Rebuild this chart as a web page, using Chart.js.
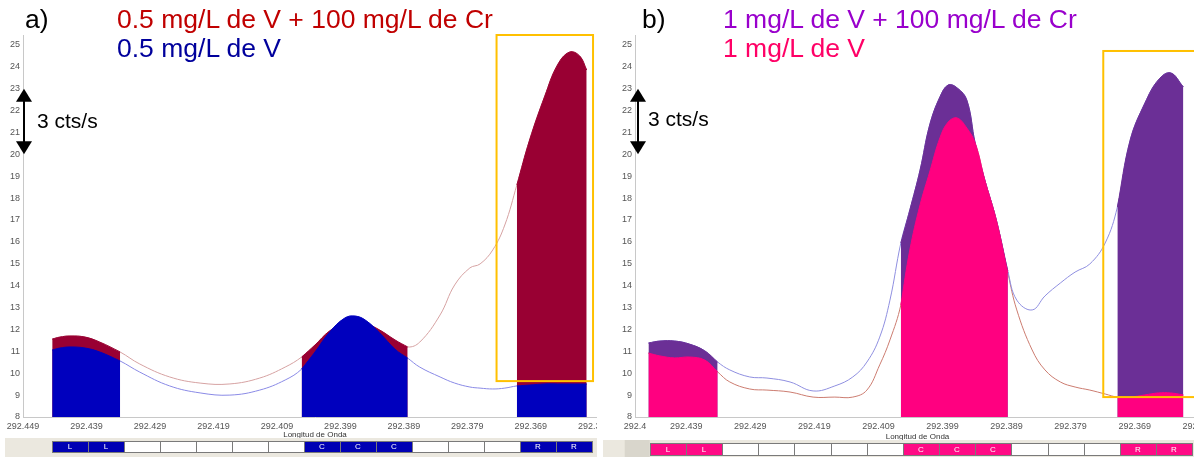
<!DOCTYPE html>
<html lang="es">
<head>
<meta charset="utf-8">
<title>Espectros V / Cr</title>
<script src="https://cdn.jsdelivr.net/npm/chart.js@4.4.1/dist/chart.umd.min.js"></script>
<style>
  html, body { margin: 0; padding: 0; background: #fff; }
  body { position: relative; width: 1194px; height: 457px; overflow: hidden;
         font-family: "Liberation Sans", Arial, sans-serif; }
  .panel { position: absolute; top: 0; height: 457px; overflow: hidden; }
  #panel-a { left: 0; width: 597px; }
  #panel-b { left: 600px; width: 594px; }
  .panel canvas { position: absolute; left: 0; top: 0; }
  .head { position: absolute; top: 5px; font-size: 26.5px; line-height: 29px; white-space: nowrap; }
  .note { position: absolute; font-size: 21px; line-height: 21px; white-space: nowrap; color: #000; }
</style>
</head>
<body>
<div class="panel" id="panel-a">
  <canvas id="chart-a" width="620" height="457"></canvas>
  <div class="head" style="left:25px;color:#000">a)</div>
  <div class="head" style="left:117px">
    <div style="color:#c00000">0.5 mg/L de V + 100 mg/L de Cr</div>
    <div style="color:#00009c">0.5 mg/L de V</div>
  </div>
  <div class="note" style="left:37px;top:110px">3 cts/s</div>
</div>
<div class="panel" id="panel-b">
  <canvas id="chart-b" width="620" height="457"></canvas>
  <div class="head" style="left:42px;color:#000">b)</div>
  <div class="head" style="left:123px">
    <div style="color:#9900cc">1 mg/L de V + 100 mg/L de Cr</div>
    <div style="color:#ff0066">1 mg/L de V</div>
  </div>
  <div class="note" style="left:48px;top:108px">3 cts/s</div>
</div>

<script>
// Intensity axis (cts/s) and the 3 cts/s scale bar
const yTicks = [8, 9, 10, 11, 12, 13, 14, 15, 16, 17, 18, 19, 20, 21, 22, 23, 24, 25];
const scaleBar = [20, 23];

// Measurement windows shown in the bottom strip (L = left bkg, C = centre, R = right bkg)
const cellLabels = ['L', 'L', '', '', '', '', '', 'C', 'C', 'C', '', '', '', 'R', 'R'];

// ---- a) 0.5 mg/L V ----
const xTicksA = [292.449, 292.439, 292.429, 292.419, 292.409, 292.399, 292.389, 292.379, 292.369, 292.359];
const xLabelsA = ['292.449', '292.439', '292.429', '292.419', '292.409', '292.399', '292.389', '292.379', '292.369', '292.359'];
const wlA = [292.4444, 292.4432, 292.4416, 292.4392, 292.4369, 292.4337, 292.4306, 292.4259, 292.4211, 292.4164,
  292.4117, 292.4077, 292.4051, 292.4030, 292.4007, 292.3983, 292.3967, 292.3951, 292.3928, 292.3904,
  292.3884, 292.3865, 292.3833, 292.3810, 292.3786, 292.3770, 292.3750, 292.3731, 292.3712, 292.3692,
  292.3668, 292.3648, 292.3629, 292.3613, 292.3602];
const vCrA = [11.56, 11.65, 11.70, 11.65, 11.42, 10.97, 10.42, 9.83, 9.55, 9.51,
  9.78, 10.28, 10.74, 11.29, 11.93, 12.29, 12.38, 12.29, 11.97, 11.52,
  11.20, 11.42, 12.66, 14.03, 14.81, 14.99, 15.63, 16.77, 18.60, 20.65,
  22.66, 24.08, 24.67, 24.49, 23.85];
const vA = [11.06, 11.15, 11.20, 11.15, 10.97, 10.56, 10.05, 9.42, 9.10, 9.00,
  9.23, 9.69, 10.19, 10.97, 11.88, 12.52, 12.61, 12.43, 11.84, 11.10,
  10.69, 10.28, 9.83, 9.55, 9.37, 9.32, 9.28, 9.32, 9.42, 9.46,
  9.51, 9.51, 9.51, 9.51, 9.51];
const windowsA = [[292.4444, 292.4337], [292.4051, 292.3884], [292.3712, 292.3602]];

// ---- b) 1 mg/L V ----
const xTicksB = [292.447, 292.439, 292.429, 292.419, 292.409, 292.399, 292.389, 292.379, 292.369, 292.359];
const xLabelsB = ['292.4', '292.439', '292.429', '292.419', '292.409', '292.399', '292.389', '292.379', '292.369', '292.359'];
const wlB = [292.4449, 292.4431, 292.4408, 292.4385, 292.4361, 292.4341, 292.4322, 292.4291, 292.4264, 292.4228,
  292.4192, 292.4158, 292.4130, 292.4108, 292.4088, 292.4072, 292.4055, 292.4041, 292.4025, 292.4010,
  292.3994, 292.3981, 292.3967, 292.3952, 292.3939, 292.3924, 292.3906, 292.3888, 292.3874, 292.3850,
  292.3830, 292.3806, 292.3783, 292.3760, 292.3736, 292.3717, 292.3697, 292.3674, 292.3653, 292.3634,
  292.3614];
const vCrB = [11.38, 11.47, 11.47, 11.33, 11.02, 10.51, 10.15, 9.83, 9.78, 9.60,
  9.19, 9.42, 9.83, 10.51, 11.65, 13.34, 15.95, 17.46, 19.28, 21.34,
  22.62, 23.17, 23.03, 22.48, 20.52, 18.83, 17.00, 14.67, 13.34, 12.89,
  13.53, 14.12, 14.62, 14.99, 15.95, 17.59, 20.65, 22.34, 23.40, 23.72,
  23.08];
const vB = [10.92, 10.79, 10.70, 10.74, 10.60, 10.06, 9.60, 9.28, 9.23, 9.14,
  8.91, 8.91, 8.91, 9.23, 10.38, 11.52, 13.12, 15.63, 17.69, 19.19,
  20.75, 21.48, 21.66, 21.20, 20.52, 18.83, 17.00, 14.58, 12.89, 11.06,
  10.15, 9.60, 9.37, 9.23, 9.05, 8.91, 8.91, 9.01, 9.10, 9.10,
  9.01];
const windowsB = [[292.4449, 292.4341], [292.4055, 292.3888], [292.3717, 292.3614]];

const tickFont = { family: '"Liberation Sans Narrow", "Liberation Sans", Arial, sans-serif', size: 9 };

const toPoints = (wl, vals) => wl.map((w, i) => ({ x: w, y: vals[i] }));
const inWindow = (points, w) => points.filter(p => p.x <= w[0] + 1e-9 && p.x >= w[1] - 1e-9);

function lineSet(data, color) {
  return { data, borderColor: color, borderWidth: 1, fill: false, order: 5 };
}
function areaSet(data, color, order) {
  return { data, borderColor: color, backgroundColor: color, borderWidth: 1, fill: 'start', order };
}

function buildDatasets(wl, crVals, vVals, windows, st) {
  const cr = toPoints(wl, crVals), v = toPoints(wl, vVals);
  const sets = [lineSet(cr, st.crLine), lineSet(v, st.vLine)];
  windows.forEach(w => {
    sets.push(areaSet(inWindow(cr, w), st.crFill, 4));
    sets.push(areaSet(inWindow(v, w), st.vFill, 3));
  });
  return sets;
}

// strip, caption, scale bar and highlight frame
const panelDecor = {
  id: 'panelDecor',
  afterDraw(chart, args, o) {
    const { ctx, chartArea: area, scales: { x, y } } = chart;
    ctx.save();

    // highlight frame round the right-hand window
    const fx0 = x.getPixelForValue(o.frame.from), fx1 = x.getPixelForValue(o.frame.to);
    const fy0 = y.getPixelForValue(o.frame.high), fy1 = y.getPixelForValue(o.frame.low);
    ctx.strokeStyle = '#ffc000';
    ctx.lineWidth = 2;
    ctx.strokeRect(fx0, fy0, fx1 - fx0, fy1 - fy0);

    // double arrow for 3 cts/s
    const ax = area.left + o.arrowDx;
    const top = y.getPixelForValue(scaleBar[1]), bot = y.getPixelForValue(scaleBar[0]);
    ctx.fillStyle = '#000';
    ctx.strokeStyle = '#000';
    ctx.lineWidth = 2;
    ctx.beginPath(); ctx.moveTo(ax, top + 8); ctx.lineTo(ax, bot - 8); ctx.stroke();
    ctx.beginPath(); ctx.moveTo(ax, top); ctx.lineTo(ax - 8, top + 13); ctx.lineTo(ax + 8, top + 13); ctx.closePath(); ctx.fill();
    ctx.beginPath(); ctx.moveTo(ax, bot); ctx.lineTo(ax - 8, bot - 13); ctx.lineTo(ax + 8, bot - 13); ctx.closePath(); ctx.fill();

    // axis caption
    ctx.fillStyle = '#333';
    ctx.font = '8px "Liberation Sans Narrow", "Liberation Sans", sans-serif';
    ctx.textAlign = 'center';
    ctx.textBaseline = 'middle';
    ctx.fillText('Longitud de Onda', (area.left + area.right) / 2, o.captionY);

    // window strip
    ctx.fillStyle = '#ebe8df';
    ctx.fillRect(o.stripLeft, o.stripTop, chart.width - o.stripLeft, chart.height - o.stripTop);
    const c0 = x.getPixelForValue(o.cellStart);
    if (o.stub) {
      ctx.fillStyle = '#d9d6cc';
      ctx.fillRect(c0 - 25, o.stripTop, 25, chart.height - o.stripTop);
    }
    ctx.lineWidth = 1;
    ctx.font = '8px "Liberation Sans", sans-serif';
    cellLabels.forEach((lab, i) => {
      const x0 = Math.round(x.getPixelForValue(o.cellStart - i * o.cellStep));
      const x1 = Math.round(x.getPixelForValue(o.cellStart - (i + 1) * o.cellStep));
      ctx.fillStyle = lab ? o.cellFill : '#fff';
      ctx.fillRect(x0, o.cellTop, x1 - x0, o.cellH);
      ctx.strokeStyle = '#7a7a7a';
      ctx.strokeRect(x0 + 0.5, o.cellTop + 0.5, x1 - x0, o.cellH);
      if (lab) {
        ctx.fillStyle = '#fff';
        ctx.fillText(lab, (x0 + x1) / 2, o.cellTop + o.cellH / 2 + 0.5);
      }
    });
    ctx.restore();
  }
};

function makeChart(id, cfg) {
  return new Chart(document.getElementById(id), {
    type: 'line',
    data: { datasets: cfg.datasets },
    options: {
      responsive: false,
      animation: false,
      devicePixelRatio: 1,
      layout: { padding: cfg.padding },
      elements: { point: { radius: 0 }, line: { tension: 0.4 } },
      plugins: { legend: { display: false }, tooltip: { enabled: false }, panelDecor: cfg.decor },
      scales: {
        x: {
          type: 'linear', reverse: true, min: cfg.xMin, max: cfg.xMax,
          grid: { display: false, drawTicks: false },
          border: { display: true, color: '#c8c8c8' },
          ticks: { autoSkip: false, maxRotation: 0, padding: 4, color: '#555', font: tickFont,
                   callback: (v, i) => cfg.xLabels[i] },
          afterBuildTicks: s => { s.ticks = cfg.xTicks.map(value => ({ value })); },
          afterFit: s => { s.height = 40; s.paddingLeft = 0; s.paddingRight = 0; }
        },
        y: {
          type: 'linear', min: 8, max: 25.45,
          grid: { display: false, drawTicks: false },
          border: { display: true, color: '#c8c8c8' },
          ticks: { padding: 3, color: '#555', font: tickFont, callback: v => String(v) },
          afterBuildTicks: s => { s.ticks = yTicks.map(value => ({ value })); },
          afterFit: s => { s.width = 20; s.paddingTop = 0; s.paddingBottom = 0; }
        }
      }
    },
    plugins: [panelDecor]
  });
}

makeChart('chart-a', {
  datasets: buildDatasets(wlA, vCrA, vA, windowsA,
    { crLine: '#d6a2a2', vLine: '#8a8ae6', crFill: '#990033', vFill: '#0000be' }),
  padding: { left: 3, top: 35, right: 13, bottom: 0 },
  xMin: 292.357, xMax: 292.449, xTicks: xTicksA, xLabels: xLabelsA,
  decor: {
    frame: { from: 292.3744, to: 292.3592, high: 25.45, low: 9.64 },
    arrowDx: 1, captionY: 435,
    stripLeft: 5, stripTop: 438, stub: false,
    cellStart: 292.4444, cellStep: 0.005669, cellTop: 441, cellH: 11, cellFill: '#0000b4'
  }
});

makeChart('chart-b', {
  datasets: buildDatasets(wlB, vCrB, vB, windowsB,
    { crLine: '#8f8fe0', vLine: '#cc7c70', crFill: '#6b2f96', vFill: '#ff0080' }),
  padding: { left: 15, top: 35, right: 20, bottom: 0 },
  xMin: 292.3588, xMax: 292.447, xTicks: xTicksB, xLabels: xLabelsB,
  decor: {
    frame: { from: 292.3739, to: 292.3570, high: 24.72, low: 8.91 },
    arrowDx: 3, captionY: 437,
    stripLeft: 3, stripTop: 440, stub: true,
    cellStart: 292.4447, cellStep: 0.005645, cellTop: 443, cellH: 12, cellFill: '#ff0a85'
  }
});
</script>
</body>
</html>
